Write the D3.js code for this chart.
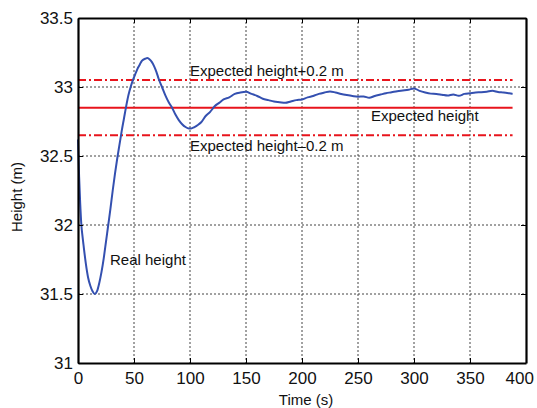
<!DOCTYPE html>
<html>
  <head>
    <title>Height response</title>
    <script src="https://cdn.jsdelivr.net/npm/d3@7"></script>
    <style type="text/css">
      body {
        margin: 0;
        background: #fff;
      }

      text {
        font-family: Arial, "Liberation Sans", Helvetica, sans-serif;
        fill: #111;
      }

      .grid line {
        stroke: #444;
        stroke-width: 1px;
        stroke-dasharray: 2, 2;
      }

      .axis path, .axis line {
        stroke: #000;
      }

      .real {
        fill: none;
        stroke: #3450b0;
        stroke-width: 2px;
      }

      .expected {
        stroke: #e8141c;
        stroke-width: 2px;
      }

      .bound {
        stroke: #e8141c;
        stroke-width: 2px;
        stroke-dasharray: 8, 3, 2, 3;
      }
    </style>
  </head>
<body>
  <div id="chart"></div>
  <script type="text/javascript">
    var width = 537, height = 408;
    var margin = {top: 18, right: 11, bottom: 45, left: 78};

    // ticks
    var xTicks = [0, 50, 100, 150, 200, 250, 300, 350, 400];
    var yTicks = [31, 31.5, 32, 32.5, 33, 33.5];

    // reference levels
    var expectedHeight = 32.85;
    var tolerance = 0.2;
    var refRange = [0, 388];

    var time = [0, 1, 2, 3, 4, 5, 7, 9, 11, 13, 15, 17, 19, 21, 23, 25, 27, 29, 31, 33,
      35, 37, 39, 41, 43, 45, 47, 49, 51, 53, 55, 57, 60, 62, 64, 66, 68, 70, 72, 75,
      78, 81, 84, 87, 90, 93, 96, 99, 101, 104, 107, 110, 114, 118, 122, 126, 130, 135, 140, 145,
      150, 155, 160, 165, 170, 175, 180, 185, 190, 195, 200, 205, 210, 215, 220, 225, 230, 235, 240, 245,
      250, 255, 260, 265, 270, 275, 280, 285, 290, 295, 300, 305, 310, 315, 320, 325, 330, 335, 340, 345,
      350, 355, 360, 365, 370, 375, 380, 385, 388];
    var realHeight = [32.62, 32.35, 32.15, 32.0, 31.92, 31.85, 31.72, 31.62, 31.56, 31.52, 31.50, 31.52, 31.58, 31.66, 31.76, 31.88, 32.0, 32.12, 32.25, 32.37,
      32.48, 32.58, 32.68, 32.77, 32.86, 32.94, 33.0, 33.05, 33.09, 33.13, 33.16, 33.19, 33.205, 33.21, 33.2, 33.18, 33.15, 33.11, 33.06, 33.0,
      32.94, 32.89, 32.85, 32.80, 32.76, 32.73, 32.71, 32.70, 32.70, 32.71, 32.725, 32.745, 32.79, 32.82, 32.86, 32.885, 32.91, 32.925, 32.95, 32.96,
      32.965, 32.95, 32.935, 32.915, 32.905, 32.895, 32.89, 32.885, 32.895, 32.905, 32.91, 32.925, 32.935, 32.95, 32.96, 32.968, 32.96, 32.95, 32.942, 32.935,
      32.93, 32.932, 32.922, 32.935, 32.945, 32.955, 32.962, 32.97, 32.975, 32.98, 32.99, 32.972, 32.96, 32.952, 32.95, 32.944, 32.938, 32.946, 32.936, 32.95,
      32.955, 32.96, 32.962, 32.966, 32.972, 32.964, 32.96, 32.954, 32.95];

    var series = time.map(function(t, i) { return {t: t, h: realHeight[i]}; });

    var innerW = width - margin.left - margin.right;
    var innerH = height - margin.top - margin.bottom;

    var x = d3.scaleLinear().domain([0, 400]).range([0, innerW]);
    var y = d3.scaleLinear().domain([31, 33.5]).range([innerH, 0]);

    var svg = d3.select("#chart")
      .append("svg")
      .attr("width", width)
      .attr("height", height);

    var g = svg.append("g")
      .attr("transform", "translate(" + margin.left + "," + margin.top + ")");

    //Grid
    var grid = g.append("g").attr("class", "grid");
    grid.selectAll(".gx")
      .data(xTicks.slice(1, -1))
      .enter().append("line")
      .attr("x1", x).attr("x2", x)
      .attr("y1", 0).attr("y2", innerH);
    grid.selectAll(".gy")
      .data(yTicks.slice(1, -1))
      .enter().append("line")
      .attr("x1", 0).attr("x2", innerW)
      .attr("y1", y).attr("y2", y);

    // reference lines
    var lines = [
      {v: expectedHeight + tolerance, cls: "bound"},
      {v: expectedHeight, cls: "expected"},
      {v: expectedHeight - tolerance, cls: "bound"}
    ];
    g.selectAll(".ref")
      .data(lines)
      .enter().append("line")
      .attr("class", function(d) { return d.cls; })
      .attr("x1", x(refRange[0])).attr("x2", x(refRange[1]))
      .attr("y1", function(d) { return y(d.v); })
      .attr("y2", function(d) { return y(d.v); });

    var line = d3.line()
      .x(function(d) { return x(d.t); })
      .y(function(d) { return y(d.h); })
      .curve(d3.curveMonotoneX);

    g.append("path")
      .datum(series)
      .attr("class", "real")
      .attr("d", line);

    // axes, ticks inside like matlab
    var fmt = d3.format("~g");
    g.append("g")
      .attr("class", "axis")
      .attr("transform", "translate(0," + innerH + ")")
      .call(d3.axisBottom(x).tickValues(xTicks).tickFormat(fmt).tickSizeInner(-5).tickSizeOuter(0).tickPadding(9));
    g.append("g")
      .attr("class", "axis")
      .call(d3.axisLeft(y).tickValues(yTicks).tickFormat(fmt).tickSizeInner(-5).tickSizeOuter(0).tickPadding(5));
    g.append("g")
      .attr("class", "axis")
      .call(d3.axisTop(x).tickValues(xTicks).tickSizeInner(-5).tickSizeOuter(0).tickFormat(""));
    g.append("g")
      .attr("class", "axis")
      .attr("transform", "translate(" + innerW + ",0)")
      .call(d3.axisRight(y).tickValues(yTicks).tickSizeInner(-5).tickSizeOuter(0).tickFormat(""));

    g.selectAll(".axis .domain").attr("stroke-width", 2.2);
    g.selectAll(".axis text").attr("font-size", 17).attr("fill", "#111");
    // last x label sits a little left, as in the original
    g.selectAll(".axis .tick text")
      .filter(function(d) { return d === 400; })
      .attr("dx", "-0.4em");

    // labels
    svg.append("text")
      .attr("x", 306).attr("y", 405)
      .attr("text-anchor", "middle")
      .attr("font-size", 15)
      .text("Time (s)");

    svg.append("text")
      .attr("transform", "translate(22,197) rotate(-90)")
      .attr("text-anchor", "middle")
      .attr("font-size", 15)
      .text("Height (m)");

    var notes = [
      {text: "Expected height+0.2 m", x: 190, y: 76},
      {text: "Expected height", x: 371, y: 121},
      {text: "Expected height\u20130.2 m", x: 190, y: 151},
      {text: "Real height", x: 110, y: 265}
    ];
    svg.selectAll(".note")
      .data(notes)
      .enter().append("text")
      .attr("class", "note")
      .attr("x", function(d) { return d.x; })
      .attr("y", function(d) { return d.y; })
      .attr("font-size", 15)
      .text(function(d) { return d.text; });
  </script>
</body>
</html>
